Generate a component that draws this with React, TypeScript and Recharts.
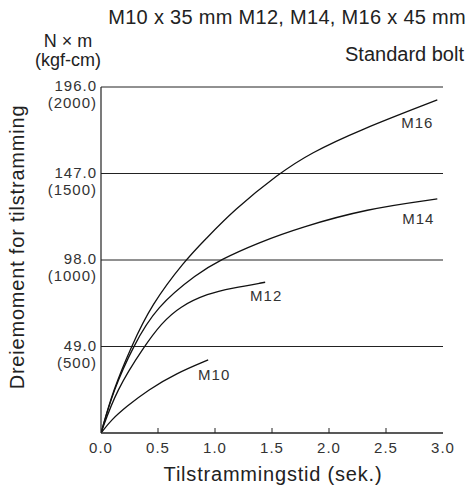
import type { FC } from "react";
import { LineChart, Line, XAxis, YAxis, CartesianGrid } from "recharts";

// time (sek.) and torque (N x m)
const m10Time = [0, 0.09, 0.222, 0.413, 0.66, 0.94];
const m10Torque = [0, 7.4, 14.9, 24.4, 33.8, 41.4];
const m12Time = [0, 0.135, 0.378, 0.53, 0.69, 0.94, 1.145, 1.44];
const m12Torque = [0, 24.4, 49, 62.1, 71.6, 79.1, 82, 85.4];
const m14Time = [0, 0.11, 0.281, 0.486, 0.85, 1.042, 1.378, 1.75, 2.33, 2.95];
const m14Torque = [0, 24.4, 49, 71.6, 90.5, 98, 107.8, 116.5, 127, 132.6];
const m16Time = [0, 0.105, 0.266, 0.44, 0.74, 0.91, 1.16, 1.56, 1.835, 2.27, 2.95];
const m16Torque = [0, 24, 49, 72.5, 98, 109.3, 126, 147, 158.5, 171.7, 188.7];

const xTicks = [0, 0.5, 1, 1.5, 2, 2.5, 3];
const xTickLabels = ["0.0", "0.5", "1.0", "1.5", "2.0", "2.5", "3.0"];
const yTicks = [49, 98, 147, 196];
const yTickNm = ["49.0", "98.0", "147.0", "196.0"];
const yTickKgf = ["(500)", "(1000)", "(1500)", "(2000)"];

const toPoints = (ts: number[], vs: number[]) =>
  ts.map((t, i) => ({ t, v: vs[i] }));

const series = [
  { name: "M10", data: toPoints(m10Time, m10Torque), dx: 6, dy: 20 },
  { name: "M12", data: toPoints(m12Time, m12Torque), dx: 1, dy: 19 },
  { name: "M14", data: toPoints(m14Time, m14Torque), dx: -19, dy: 25 },
  { name: "M16", data: toPoints(m16Time, m16Torque), dx: -20, dy: 28 },
];

const FONT = '"Liberation Sans", Arial, sans-serif';
const INK = "#222";

const XTick = (props: any) => {
  const { x, y, payload } = props;
  const idx = xTicks.indexOf(payload.value);
  const inner = payload.value > 0 && payload.value < 3;
  return (
    <g>
      {inner && <line x1={x} x2={x} y1={y} y2={y - 5} stroke={INK} />}
      <text
        x={x}
        y={y + 20}
        textAnchor="middle"
        fontSize={15}
        letterSpacing={1}
        fill="#333"
        fontFamily={FONT}
      >
        {xTickLabels[idx]}
      </text>
    </g>
  );
};

const YTick = (props: any) => {
  const { x, y, payload } = props;
  const idx = yTicks.indexOf(payload.value);
  return (
    <g fontFamily={FONT} fontSize={15} fill="#333" letterSpacing={1}>
      <text x={x - 4} y={y + 4} textAnchor="end">
        {yTickNm[idx]}
      </text>
      <text x={x - 4} y={y + 21} textAnchor="end">
        {yTickKgf[idx]}
      </text>
    </g>
  );
};

const EndLabel = (name: string, dx: number, dy: number, last: number) =>
  (props: any) => {
    const { x, y, index } = props;
    if (index !== last) return null;
    return (
      <text
        x={x + dx}
        y={y + dy}
        textAnchor="middle"
        fontSize={15}
        letterSpacing={1}
        fill="#333"
        fontFamily={FONT}
      >
        {name}
      </text>
    );
  };

const App: FC = () => {
  return (
    <div
      style={{
        position: "absolute",
        left: 0,
        top: 0,
        width: 476,
        height: 485,
        background: "#fff",
        fontFamily: FONT,
        color: INK,
      }}
    >
      <LineChart
        width={476}
        height={485}
        margin={{ top: 87, right: 33, bottom: 22, left: 41 }}
      >
        <CartesianGrid vertical={false} stroke={INK} strokeWidth={1} />
        <XAxis
          type="number"
          dataKey="t"
          domain={[0, 3]}
          ticks={xTicks}
          axisLine={{ stroke: INK, strokeWidth: 1.2 }}
          tickLine={false}
          tickSize={0}
          tickMargin={0}
          height={30}
          tick={<XTick />}
          allowDataOverflow
        />
        <XAxis
          xAxisId="top"
          orientation="top"
          type="number"
          domain={[0, 3]}
          axisLine={{ stroke: INK, strokeWidth: 1.2 }}
          tick={false}
          tickLine={false}
          height={0}
          allowDataOverflow
        />
        <YAxis
          type="number"
          dataKey="v"
          domain={[0, 196]}
          ticks={yTicks}
          axisLine={{ stroke: INK, strokeWidth: 1.2 }}
          tickLine={false}
          tickSize={0}
          tickMargin={0}
          width={60}
          tick={<YTick />}
          allowDataOverflow
        />
        <YAxis
          yAxisId="right"
          orientation="right"
          type="number"
          domain={[0, 196]}
          axisLine={{ stroke: INK, strokeWidth: 1.2 }}
          tick={false}
          tickLine={false}
          width={0}
          allowDataOverflow
        />
        {series.map((s) => (
          <Line
            key={s.name}
            data={s.data}
            dataKey="v"
            type="basis"
            stroke="#111"
            strokeWidth={1.3}
            dot={false}
            isAnimationActive={false}
            label={EndLabel(s.name, s.dx, s.dy, s.data.length - 1)}
          />
        ))}
      </LineChart>

      <div
        style={{
          position: "absolute",
          right: 10,
          top: 6,
          fontSize: 20,
          letterSpacing: 0.3,
          whiteSpace: "nowrap",
        }}
      >
        M10 x 35 mm M12, M14, M16 x 45 mm
      </div>
      <div
        style={{
          position: "absolute",
          right: 12,
          top: 43,
          fontSize: 20,
          whiteSpace: "nowrap",
        }}
      >
        Standard bolt
      </div>
      <div
        style={{
          position: "absolute",
          left: 28,
          top: 32,
          width: 80,
          textAlign: "center",
          fontSize: 18,
          lineHeight: "19px",
        }}
      >
        N × m
        <br />
        (kgf-cm)
      </div>
      <div
        style={{
          position: "absolute",
          left: 273,
          top: 463,
          transform: "translateX(-50%)",
          fontSize: 20,
          letterSpacing: 0.8,
          whiteSpace: "nowrap",
        }}
      >
        Tilstrammingstid (sek.)
      </div>
      <div
        style={{
          position: "absolute",
          left: 17,
          top: 247,
          transform: "translate(-50%, -50%) rotate(-90deg)",
          fontSize: 20,
          letterSpacing: 0.8,
          whiteSpace: "nowrap",
        }}
      >
        Dreiemoment for tilstramming
      </div>
    </div>
  );
};

export default App;
